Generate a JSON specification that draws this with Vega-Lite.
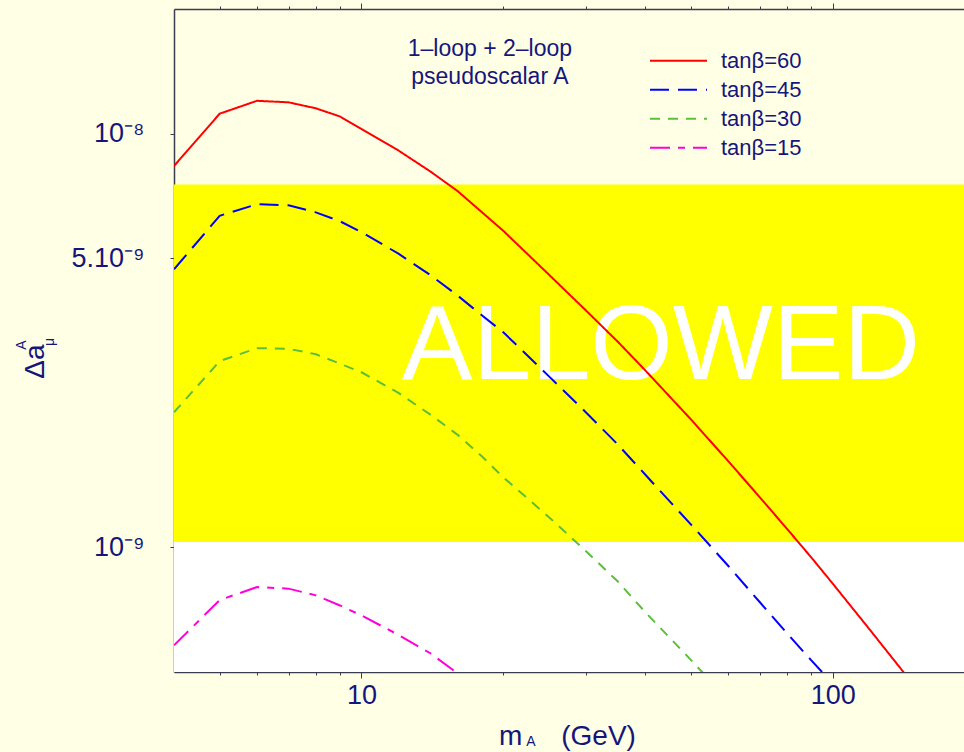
{
  "$schema": "https://vega.github.io/schema/vega-lite/v6.json",
  "width": 790,
  "height": 663,
  "autosize": {"type": "none"},
  "padding": {"left": 174, "top": 9, "right": 0, "bottom": 80},
  "background": "#FFFFE6",
  "config": {
    "font": "Liberation Sans",
    "view": {"fill": "#FFFFE6", "stroke": null},
    "axis": {
      "grid": false,
      "domainColor": "#3C3C50",
      "tickColor": "#3C3C50",
      "labelColor": "#16167A",
      "titleColor": "#16167A",
      "labelFont": "Liberation Sans",
      "titleFont": "Liberation Sans",
      "titleFontWeight": "normal",
      "domainWidth": 1.5,
      "tickWidth": 1
    }
  },
  "resolve": {"axis": {"x": "independent", "y": "independent"}},
  "datasets": {
    "bands": [
      {"band": "below", "lo": 5e-10, "hi": 1.03e-9},
      {"band": "allowed", "lo": 1.03e-9, "hi": 7.53e-9}
    ],
    "notes": [
      {"kind": "big", "m": 43.2, "v": 2.55e-9, "label": "ALLOWED"},
      {"kind": "note", "m": 18.73, "v": 1.539e-8, "label": "1–loop + 2–loop"},
      {"kind": "note", "m": 18.73, "v": 1.315e-8, "label": "pseudoscalar A"},
      {"kind": "ysub", "m": 1.905, "v": 3.084e-9, "label": "A"},
      {"kind": "ysub", "m": 2.18, "v": 3.135e-9, "label": "μ"},
      {"kind": "xsub", "m": 22.9, "v": 3.38e-10, "label": "A"}
    ],
    "curves": [
      {"s": "tanβ=60", "m": 4, "v": 8.35e-9},
      {"s": "tanβ=60", "m": 5, "v": 1.117e-8},
      {"s": "tanβ=60", "m": 6, "v": 1.2e-8},
      {"s": "tanβ=60", "m": 7, "v": 1.19e-8},
      {"s": "tanβ=60", "m": 8, "v": 1.151e-8},
      {"s": "tanβ=60", "m": 9, "v": 1.1e-8},
      {"s": "tanβ=60", "m": 10, "v": 1.026e-8},
      {"s": "tanβ=60", "m": 12, "v": 9.09e-9},
      {"s": "tanβ=60", "m": 14, "v": 8.1e-9},
      {"s": "tanβ=60", "m": 16, "v": 7.26e-9},
      {"s": "tanβ=60", "m": 18, "v": 6.46e-9},
      {"s": "tanβ=60", "m": 20, "v": 5.82e-9},
      {"s": "tanβ=60", "m": 25, "v": 4.56e-9},
      {"s": "tanβ=60", "m": 30, "v": 3.73e-9},
      {"s": "tanβ=60", "m": 35, "v": 3.14e-9},
      {"s": "tanβ=60", "m": 40, "v": 2.68e-9},
      {"s": "tanβ=60", "m": 50, "v": 2.04e-9},
      {"s": "tanβ=60", "m": 60, "v": 1.617e-9},
      {"s": "tanβ=60", "m": 70, "v": 1.323e-9},
      {"s": "tanβ=60", "m": 80, "v": 1.109e-9},
      {"s": "tanβ=60", "m": 90, "v": 9.47e-10},
      {"s": "tanβ=60", "m": 100, "v": 8.18e-10},
      {"s": "tanβ=60", "m": 120, "v": 6.32e-10},
      {"s": "tanβ=60", "m": 150, "v": 4.59e-10},
      {"s": "tanβ=45", "m": 4, "v": 4.7e-9},
      {"s": "tanβ=45", "m": 5, "v": 6.33e-9},
      {"s": "tanβ=45", "m": 6, "v": 6.75e-9},
      {"s": "tanβ=45", "m": 7, "v": 6.71e-9},
      {"s": "tanβ=45", "m": 8, "v": 6.45e-9},
      {"s": "tanβ=45", "m": 9, "v": 6.14e-9},
      {"s": "tanβ=45", "m": 10, "v": 5.78e-9},
      {"s": "tanβ=45", "m": 12, "v": 5.12e-9},
      {"s": "tanβ=45", "m": 14, "v": 4.55e-9},
      {"s": "tanβ=45", "m": 16, "v": 4.06e-9},
      {"s": "tanβ=45", "m": 18, "v": 3.64e-9},
      {"s": "tanβ=45", "m": 20, "v": 3.31e-9},
      {"s": "tanβ=45", "m": 25, "v": 2.59e-9},
      {"s": "tanβ=45", "m": 30, "v": 2.116e-9},
      {"s": "tanβ=45", "m": 35, "v": 1.772e-9},
      {"s": "tanβ=45", "m": 40, "v": 1.5e-9},
      {"s": "tanβ=45", "m": 50, "v": 1.137e-9},
      {"s": "tanβ=45", "m": 60, "v": 9.03e-10},
      {"s": "tanβ=45", "m": 70, "v": 7.38e-10},
      {"s": "tanβ=45", "m": 80, "v": 6.2e-10},
      {"s": "tanβ=45", "m": 90, "v": 5.34e-10},
      {"s": "tanβ=45", "m": 100, "v": 4.69e-10},
      {"s": "tanβ=45", "m": 120, "v": 3.56e-10},
      {"s": "tanβ=30", "m": 4, "v": 2.12e-9},
      {"s": "tanβ=30", "m": 5, "v": 2.82e-9},
      {"s": "tanβ=30", "m": 6, "v": 3.03e-9},
      {"s": "tanβ=30", "m": 7, "v": 3.02e-9},
      {"s": "tanβ=30", "m": 8, "v": 2.93e-9},
      {"s": "tanβ=30", "m": 9, "v": 2.78e-9},
      {"s": "tanβ=30", "m": 10, "v": 2.65e-9},
      {"s": "tanβ=30", "m": 12, "v": 2.36e-9},
      {"s": "tanβ=30", "m": 14, "v": 2.094e-9},
      {"s": "tanβ=30", "m": 16, "v": 1.871e-9},
      {"s": "tanβ=30", "m": 18, "v": 1.661e-9},
      {"s": "tanβ=30", "m": 20, "v": 1.477e-9},
      {"s": "tanβ=30", "m": 25, "v": 1.183e-9},
      {"s": "tanβ=30", "m": 30, "v": 9.78e-10},
      {"s": "tanβ=30", "m": 35, "v": 8.27e-10},
      {"s": "tanβ=30", "m": 40, "v": 6.98e-10},
      {"s": "tanβ=30", "m": 50, "v": 5.35e-10},
      {"s": "tanβ=30", "m": 60, "v": 4.28e-10},
      {"s": "tanβ=15", "m": 4, "v": 5.8e-10},
      {"s": "tanβ=15", "m": 5, "v": 7.46e-10},
      {"s": "tanβ=15", "m": 6, "v": 8.02e-10},
      {"s": "tanβ=15", "m": 7, "v": 7.95e-10},
      {"s": "tanβ=15", "m": 8, "v": 7.66e-10},
      {"s": "tanβ=15", "m": 9, "v": 7.24e-10},
      {"s": "tanβ=15", "m": 10, "v": 6.85e-10},
      {"s": "tanβ=15", "m": 12, "v": 6.14e-10},
      {"s": "tanβ=15", "m": 14, "v": 5.55e-10},
      {"s": "tanβ=15", "m": 16, "v": 4.96e-10},
      {"s": "tanβ=15", "m": 18, "v": 4.43e-10}
    ]
  },
  "layer": [
    {
      "data": {"name": "bands"},
      "transform": [{"filter": "datum.band == 'below'"}],
      "mark": {"type": "rect", "color": "#FFFFFF"},
      "encoding": {
        "y": {
          "field": "lo", "type": "quantitative",
          "scale": {"type": "log", "domain": [5e-10, 2e-8], "nice": false},
          "axis": {
            "orient": "left",
            "values": [1e-9, 5e-9, 1e-8],
            "labelExpr": "datum.value > 7e-9 ? '10⁻⁸' : datum.value > 2e-9 ? '5.10⁻⁹' : '10⁻⁹'",
            "labelFontSize": 27,
            "labelPadding": 26,
            "labelFlush": false,
            "labelOverlap": false,
            "tickSize": 4,
            "domain": true,
            "title": "Δa",
            "titleFontSize": 28,
            "titleAngle": 270,
            "titleX": -139,
            "titleY": 352,
            "titleAlign": "center",
            "titleBaseline": "middle"
          }
        },
        "y2": {"field": "hi"}
      }
    },
    {
      "data": {"name": "bands"},
      "transform": [{"filter": "datum.band == 'allowed'"}],
      "mark": {"type": "rect", "color": "#FFFF00"},
      "encoding": {
        "y": {"field": "lo", "type": "quantitative", "scale": {"type": "log", "domain": [5e-10, 2e-8], "nice": false}, "axis": null},
        "y2": {"field": "hi"}
      }
    },
    {
      "data": {"name": "notes"},
      "transform": [{"filter": "datum.kind == 'big'"}],
      "mark": {"type": "text", "color": "#FFFFFF", "fontSize": 106, "align": "center", "baseline": "alphabetic", "font": "Liberation Sans"},
      "encoding": {
        "x": {
          "field": "m", "type": "quantitative",
          "scale": {"type": "log", "domain": [4, 190], "nice": false},
          "axis": {
            "orient": "bottom",
            "values": [10, 100],
            "format": "d",
            "labelFontSize": 27,
            "labelPadding": 4,
            "labelFlush": false,
            "labelOverlap": false,
            "tickSize": 6,
            "domain": false,
            "title": "m\u00a0\u00a0\u00a0\u00a0\u00a0(GeV)",
            "titleFontSize": 28,
            "titleX": 393,
            "titleY": 72,
            "titleAlign": "center",
            "titleBaseline": "alphabetic"
          }
        },
        "y": {"field": "v", "type": "quantitative", "scale": {"type": "log", "domain": [5e-10, 2e-8], "nice": false}, "axis": null},
        "text": {"field": "label"}
      }
    },
    {
      "data": {"name": "notes"},
      "transform": [{"filter": "datum.kind == 'note'"}],
      "mark": {"type": "text", "color": "#16167A", "fontSize": 23, "align": "center", "baseline": "alphabetic"},
      "encoding": {
        "x": {
          "field": "m", "type": "quantitative",
          "scale": {"type": "log", "domain": [4, 190], "nice": false},
          "axis": {"orient": "top", "values": [10, 100], "labels": false, "tickSize": 6, "domain": false, "title": null}
        },
        "y": {"field": "v", "type": "quantitative", "scale": {"type": "log", "domain": [5e-10, 2e-8], "nice": false}, "axis": null},
        "text": {"field": "label"}
      }
    },
    {
      "data": {"name": "curves"},
      "mark": {"type": "line", "strokeWidth": 2, "clip": true},
      "encoding": {
        "x": {
          "field": "m", "type": "quantitative",
          "scale": {"type": "log", "domain": [4, 190], "nice": false},
          "axis": {"orient": "bottom", "values": [5, 6, 7, 8, 9, 20, 30, 40, 50, 60, 70, 80, 90], "labels": false, "tickSize": 3, "domain": true, "title": null}
        },
        "y": {"field": "v", "type": "quantitative", "scale": {"type": "log", "domain": [5e-10, 2e-8], "nice": false}, "axis": null},
        "color": {
          "field": "s", "type": "nominal",
          "scale": {"domain": ["tanβ=60", "tanβ=45", "tanβ=30", "tanβ=15"], "range": ["#FF0000", "#0000FF", "#5CBE3C", "#FF00D8"]},
          "legend": {"orient": "none", "legendX": 475, "legendY": 37.5, "title": null, "symbolType": "stroke", "symbolSize": 3249, "symbolStrokeWidth": 2, "labelFontSize": 22, "labelColor": "#16167A", "labelOffset": 13, "rowPadding": 0, "clipHeight": 28.4, "padding": 0, "labelFont": "Liberation Sans"}
        },
        "strokeDash": {
          "field": "s", "type": "nominal",
          "scale": {"domain": ["tanβ=60", "tanβ=45", "tanβ=30", "tanβ=15"], "range": [[1, 0], [19, 9], [10, 8], [20, 8, 7, 8]]},
          "legend": {"orient": "none", "legendX": 475, "legendY": 37.5, "title": null, "symbolType": "stroke", "symbolSize": 3249, "symbolStrokeWidth": 2, "labelFontSize": 22, "labelColor": "#16167A", "labelOffset": 13, "rowPadding": 0, "clipHeight": 28.4, "padding": 0, "labelFont": "Liberation Sans"}
        }
      }
    },
    {
      "data": {"name": "notes"},
      "transform": [{"filter": "datum.kind == 'ysub'"}],
      "mark": {"type": "text", "color": "#16167A", "fontSize": 14, "align": "center", "baseline": "middle", "angle": 270},
      "encoding": {
        "x": {
          "field": "m", "type": "quantitative",
          "scale": {"type": "log", "domain": [4, 190], "nice": false},
          "axis": {"orient": "top", "values": [5, 6, 7, 8, 9, 20, 30, 40, 50, 60, 70, 80, 90], "labels": false, "tickSize": 3, "domain": true, "title": null}
        },
        "y": {"field": "v", "type": "quantitative", "scale": {"type": "log", "domain": [5e-10, 2e-8], "nice": false}, "axis": null},
        "text": {"field": "label"}
      }
    },
    {
      "data": {"name": "notes"},
      "transform": [{"filter": "datum.kind == 'xsub'"}],
      "mark": {"type": "text", "color": "#16167A", "fontSize": 14, "align": "center", "baseline": "middle"},
      "encoding": {
        "x": {"field": "m", "type": "quantitative", "scale": {"type": "log", "domain": [4, 190], "nice": false}, "axis": null},
        "y": {"field": "v", "type": "quantitative", "scale": {"type": "log", "domain": [5e-10, 2e-8], "nice": false}, "axis": null},
        "text": {"field": "label"}
      }
    }
  ]
}
